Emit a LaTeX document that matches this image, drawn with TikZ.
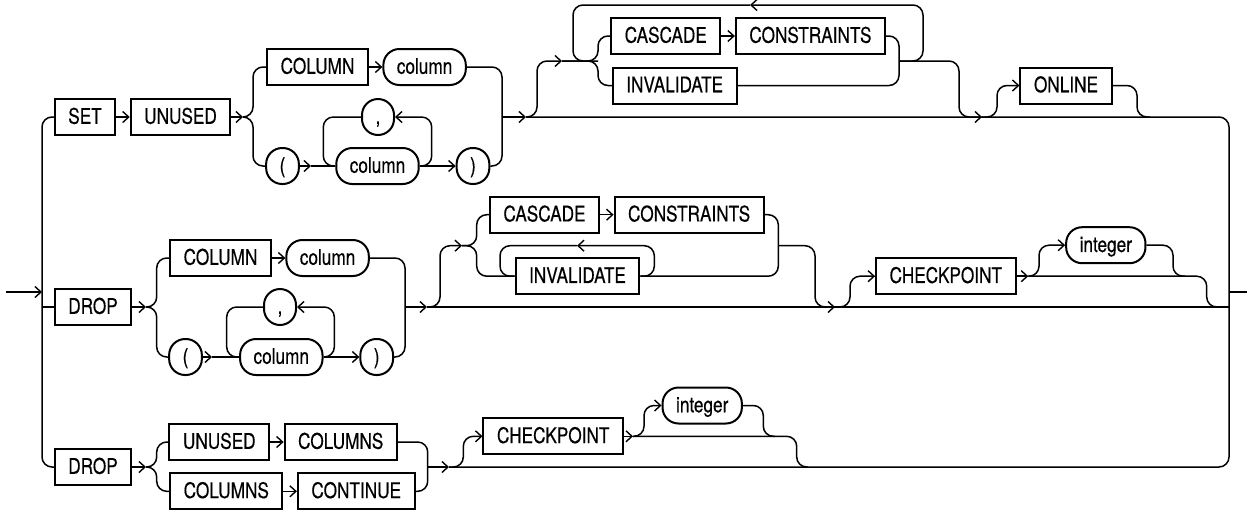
\documentclass[tikz,border=0pt]{standalone}
\usepackage{fontspec}
\newfontfamily\railfont[FakeStretch=0.8,FakeBold=0.4]{TeX Gyre Heros}
\usepackage{tikz}
\usetikzlibrary{arrows.meta,positioning}

\begin{document}
\begin{tikzpicture}[
  x=1pt, y=-1pt,
  node distance=13.5pt,
  kw/.style={draw, line width=2pt, minimum height=36pt, inner xsep=13.5pt,
             inner ysep=2pt, text height=15.5pt, text depth=2pt,
             font=\railfont\fontsize{21.5pt}{24pt}\selectfont},
  var/.style={kw, rounded corners=16pt, minimum width=32pt},
  line/.style={line width=1.5pt, rounded corners=10pt},
  arr/.style={line, -{Straight Barb[length=6pt,width=11pt,line width=1.4pt]}},
]
\useasboundingbox (0,0) rectangle (1249,512);

% SET UNUSED
\node[kw] (set) at (85,117) {SET};
\node[kw, right=of set] (unused) {UNUSED};
\node[kw] (col1) at (317.5,67) {COLUMN};
\node[var, right=of col1] (colv1) {column};
\node[var] (lp1) at (282.5,166) {(};
\node[var] (colv1b) at (377.5,166) {column};
\node[var] (cm1) at (378,117) {,};
\node[var] (rp1) at (473,166) {)};
\node[kw] (casc1) at (665.8,36) {CASCADE};
\node[kw, right=of casc1] (cons1) {CONSTRAINTS};
\node[kw] (inv1) at (674.7,85.5) {INVALIDATE};
\node[kw] (online) at (1066,85.5) {ONLINE};

% DROP column
\node[kw] (drop2) at (93,307) {DROP};
\node[kw] (col2) at (220.5,258) {COLUMN};
\node[var, right=of col2] (colv2) {column};
\node[var] (lp2) at (185.5,357) {(};
\node[var] (colv2b) at (281.3,357) {column};
\node[var] (cm2) at (280,307) {,};
\node[var] (rp2) at (376.7,357) {)};
\node[kw] (casc2) at (544.5,214.7) {CASCADE};
\node[kw, right=of casc2] (cons2) {CONSTRAINTS};
\node[kw] (inv2) at (577.5,276.2) {INVALIDATE};
\node[kw] (chk2) at (945.8,276.2) {CHECKPOINT};
\node[var] (int2) at (1105.8,245.2) {integer};

% DROP unused columns
\node[kw] (drop3) at (93,467) {DROP};
\node[kw] (unu3) at (219.3,442) {UNUSED};
\node[kw, right=of unu3] (cols3) {COLUMNS};
\node[kw] (cols3b) at (226.3,491.3) {COLUMNS};
\node[kw, right=of cols3b] (cont3) {CONTINUE};
\node[kw] (chk3) at (553.2,436.3) {CHECKPOINT};
\node[var] (int3) at (702.2,405.5) {integer};

\coordinate (start) at (6,292);
\coordinate (in) at (42,292);
\coordinate (out) at (1229,292);
\coordinate (stop) at (1247,292);

\coordinate (a1) at (243,117);
\coordinate (s1) at (253,117);
\coordinate (a3) at (311,166);
\coordinate (l1l) at (323.3,166);
\coordinate (l1r) at (431.7,117);
\coordinate (m1) at (502,117);
\coordinate (a2) at (526,117);
\coordinate (b1) at (537,61);
\coordinate (a4) at (562,61);
\coordinate (lt2) at (573,61);
\coordinate (j1) at (598,61);
\coordinate (a6) at (750,5);
\coordinate (j2) at (899,61);
\coordinate (lt1) at (923,5);
\coordinate (b2) at (959,117);
\coordinate (a5) at (982,117);
\coordinate (b3) at (997,117);
\coordinate (b4) at (1137,117);
\coordinate (b4e) at (1150,117);

\coordinate (a7) at (146,307);
\coordinate (s2) at (156.7,307);
\coordinate (a8) at (212,357);
\coordinate (l2l) at (226.7,357);
\coordinate (l2r) at (334.3,307);
\coordinate (m2) at (405,307);
\coordinate (a9) at (427,307);
\coordinate (b5) at (440,245.7);
\coordinate (a10) at (462,245.7);
\coordinate (j3) at (476.7,245.7);
\coordinate (l3l) at (500,276.2);
\coordinate (a11) at (577,245.7);
\coordinate (l3r) at (654.3,245.7);
\coordinate (j4) at (778.3,245.7);
\coordinate (b6) at (815,307);
\coordinate (a12) at (835,307);
\coordinate (b7) at (850,307);
\coordinate (a13) at (1028.3,276.2);
\coordinate (b8) at (1039,276.2);
\coordinate (b9) at (1173,276.2);
\coordinate (b9e) at (1185,276.2);
\coordinate (b10) at (1206.7,307);

\coordinate (a14) at (146,467);
\coordinate (s3) at (156.7,467);
\coordinate (j5) at (427.7,467);
\coordinate (a15) at (449,467);
\coordinate (b11) at (463.3,467);
\coordinate (a16) at (633,436.3);
\coordinate (b12) at (644,436.3);
\coordinate (b13) at (763.3,436.3);
\coordinate (b13e) at (775,436.3);
\coordinate (b14) at (796.7,467);
\coordinate (b14e) at (808,467);

% bars
\draw[arr] (start) -- (in);
\draw[line] (set) -| (in) |- (drop3);
\draw[line] (in |- drop2) -- (drop2);
\draw[line] (a2) -| (out) |- (a15);
\draw[line] (out) -- (stop);

% row 1
\draw[arr] (set) -- (unused);
\draw[arr] (unused) -- (a1);
\draw[line] (a1) -| (s1 |- col1) -- (col1);
\draw[line] (a1) -| (s1 |- lp1) -- (lp1);
\draw[arr] (col1) -- (colv1);
\draw[line] (colv1) -| (m1);
\draw[arr] (lp1) -- (a3);
\draw[line] (a3) -- (colv1b);
\draw[line] (cm1) -| (l1l) -- (colv1b);
\draw[arr] (colv1b) -| (l1r) -- (cm1);
\draw[arr] (colv1b) -- (rp1);
\draw[line] (rp1) -| (m1);
\draw[arr] (m1) -- (a2);
\draw[arr] (a2) -| (b1) -- (a4);
\draw[line] (a4) -| (j1 |- casc1) -- (casc1);
\draw[line] (a4) -| (j1 |- inv1) -- (inv1);
\draw[arr] (casc1) -- (cons1);
\draw[line] (cons1) -| (j2);
\draw[line] (inv1) -| (j2);
\draw[arr] (j2) -| (lt1) -- (a6);
\draw[line] (a6) -| (lt2) -- (j1);
\draw[arr] (j2) -| (b2) -- (a5);
\draw[arr] (a5) -| (b3 |- online) -- (online);
\draw[line] (online) -| (b4) -- (b4e);

% row 2
\draw[arr] (drop2) -- (a7);
\draw[line] (a7) -| (s2 |- col2) -- (col2);
\draw[line] (a7) -| (s2 |- lp2) -- (lp2);
\draw[arr] (col2) -- (colv2);
\draw[line] (colv2) -| (m2);
\draw[arr] (lp2) -- (a8);
\draw[line] (a8) -- (colv2b);
\draw[line] (cm2) -| (l2l) -- (colv2b);
\draw[arr] (colv2b) -| (l2r) -- (cm2);
\draw[arr] (colv2b) -- (rp2);
\draw[line] (rp2) -| (m2);
\draw[arr] (m2) -- (a9);
\draw[line] (a9) -- (out |- a9);
\draw[arr] (a9) -| (b5) -- (a10);
\draw[line] (a10) -| (j3 |- casc2) -- (casc2);
\draw[line] (a10) -| (j3 |- inv2) -- (inv2);
\draw[arr] (casc2) -- (cons2);
\draw[arr] (inv2) -| (l3r) -- (a11);
\draw[line] (a11) -| (l3l) -- (inv2);
\draw[line] (cons2) -| (j4);
\draw[line] (inv2) -| (j4);
\draw[arr] (j4) -| (b6) -- (a12);
\draw[arr] (a12) -| (b7 |- chk2) -- (chk2);
\draw[arr] (chk2) -- (a13);
\draw[arr] (a13) -| (b8 |- int2) -- (int2);
\draw[line] (int2) -| (b9) -- (b9e);
\draw[line] (a13) -| (b10) -- (out |- b10);

% row 3
\draw[arr] (drop3) -- (a14);
\draw[line] (a14) -| (s3 |- unu3) -- (unu3);
\draw[line] (a14) -| (s3 |- cols3b) -- (cols3b);
\draw[arr] (unu3) -- (cols3);
\draw[arr] (cols3b) -- (cont3);
\draw[line] (cols3) -| (j5);
\draw[line] (cont3) -| (j5);
\draw[arr] (j5) -- (a15);
\draw[arr] (a15) -| (b11 |- chk3) -- (chk3);
\draw[arr] (chk3) -- (a16);
\draw[arr] (a16) -| (b12 |- int3) -- (int3);
\draw[line] (int3) -| (b13) -- (b13e);
\draw[line] (a16) -| (b14) -- (b14e);
\end{tikzpicture}
\end{document}
